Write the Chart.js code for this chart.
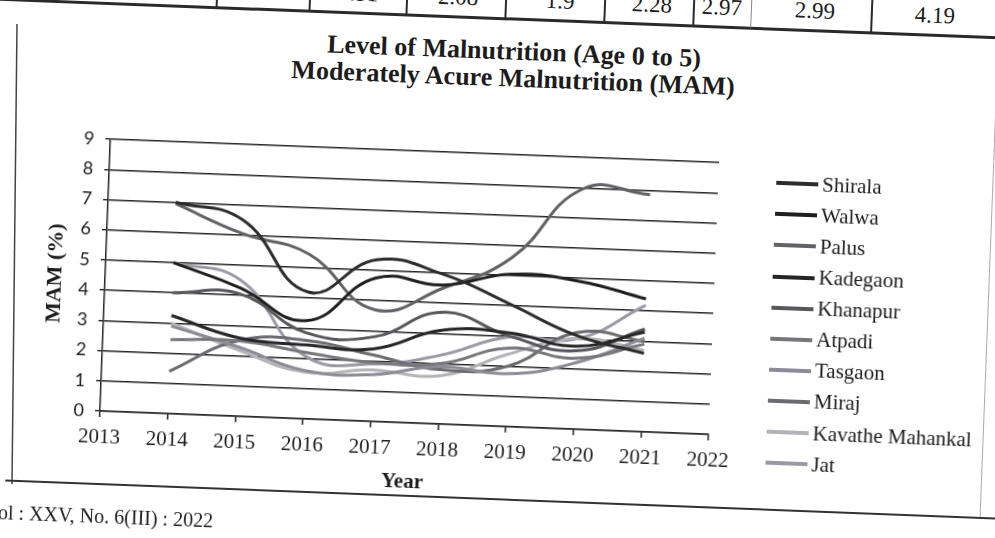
<!DOCTYPE html>
<html>
<head>
<meta charset="utf-8">
<script src="https://cdn.jsdelivr.net/npm/chart.js@4.4.1/dist/chart.umd.min.js"></script>
<style>
html,body{margin:0;padding:0;background:#fff;width:995px;height:538px;overflow:hidden;}
#rot{position:absolute;left:0;top:0;width:995px;height:538px;transform:rotate(2.2deg);transform-origin:100px 411px;}
#cv{position:absolute;left:0;top:0;}
.serif{position:absolute;font-family:"Liberation Serif","Times New Roman",serif;color:#1c1c1c;white-space:nowrap;}
.title{left:0;width:1000px;text-align:center;font-size:26px;font-weight:bold;line-height:27px;}
.hl{position:absolute;background:#2a2a2a;}
.cell{font-size:23px;line-height:1;transform:translateX(-50%);}
.leg{position:absolute;left:767px;height:31px;display:flex;align-items:center;}
.leg .sw{width:42px;height:4px;margin-right:4px;}
.leg .tx{font-family:"Liberation Serif","Times New Roman",serif;font-size:21px;color:#1c1c1c;white-space:nowrap;}
#frame{position:absolute;left:0;top:0;}
</style>
</head>
<body>
<svg id="frame" width="995" height="538">
  <line x1="17" y1="24" x2="12" y2="484" stroke="#444" stroke-width="1.5"/>
</svg>
<div id="rot">
  <!-- table fragment at top -->
  <div class="hl" style="left:-20px;top:2px;width:1040px;height:2.5px;"></div>
  <div class="hl" style="left:200px;top:-40px;width:1.5px;height:43px;"></div>
  <div class="hl" style="left:293px;top:-40px;width:1.5px;height:43px;"></div>
  <div class="hl" style="left:390px;top:-40px;width:1.5px;height:43px;"></div>
  <div class="hl" style="left:489px;top:-40px;width:1.5px;height:43px;"></div>
  <div class="hl" style="left:588px;top:-40px;width:1.5px;height:43px;"></div>
  <div class="hl" style="left:677px;top:-40px;width:1.5px;height:43px;"></div>
  <div class="hl" style="left:735px;top:-40px;width:1px;height:43px;background:#888;"></div>
  <div class="hl" style="left:855px;top:-40px;width:1.5px;height:43px;"></div>
  <div id="tableRow"></div>

  <!-- chart frame (bottom / right) -->
  <div class="hl" style="left:8px;top:483px;width:1010px;height:1.5px;background:#333;"></div>
  <div class="hl" style="left:983px;top:3px;width:1px;height:480px;background:#aaa;"></div>

  <div class="serif title" style="top:22px;">Level of Malnutrition (Age 0 to 5)</div>
  <div class="serif title" style="top:49px;">Moderately Acure Malnutrition (MAM)</div>

  <canvas id="cv" width="995" height="538"></canvas>
  <div id="legend"></div>

  <div class="serif" style="left:2px;top:505px;font-size:20px;">ol : XXV, No. 6(III) : 2022</div>
</div>

<script>
// ---- data ----
const years = [2014, 2015, 2016, 2017, 2018, 2019, 2020, 2021];
const xTicks = [2013, 2014, 2015, 2016, 2017, 2018, 2019, 2020, 2021, 2022];
const yTicks = [0, 1, 2, 3, 4, 5, 6, 7, 8, 9];
const seriesNames = ["Shirala", "Walwa", "Palus", "Kadegaon", "Khanapur", "Atpadi", "Tasgaon", "Miraj", "Kavathe Mahankal", "Jat"];
const shirala  = [7.0, 6.5, 4.2, 5.35, 4.95, 4.05, 3.1, 2.6];
const walwa    = [5.0, 4.25, 3.25, 4.75, 4.6, 5.05, 4.9, 4.4];
const palus    = [6.95, 6.05, 5.45, 3.7, 4.5, 5.6, 7.95, 7.85];
const kadegaon = [3.25, 2.6, 2.45, 2.4, 3.1, 3.1, 2.75, 3.3];
const khanapur = [4.0, 4.05, 2.85, 2.8, 3.7, 3.0, 2.6, 3.4];
const atpadi   = [2.45, 2.5, 2.2, 1.95, 2.0, 2.6, 2.35, 2.9];
const tasgaon  = [2.9, 2.3, 1.6, 1.55, 1.9, 1.75, 2.2, 3.1];
const miraj    = [1.4, 2.5, 2.6, 2.2, 1.8, 2.0, 3.2, 3.0];
const kavathe  = [3.0, 2.2, 1.55, 1.7, 1.6, 2.4, 3.0, 2.7];
const jat      = [5.0, 4.51, 2.08, 1.9, 2.28, 2.97, 2.99, 4.19];
const tableCells = ["4.51", "2.08", "1.9", "2.28", "2.97", "2.99", "4.19"];

// ---- styles (kept separate from data) ----
const seriesValues = [shirala, walwa, palus, kadegaon, khanapur, atpadi, tasgaon, miraj, kavathe, jat];
const seriesColors = ["#2c2c2c", "#1f1f1f", "#626266", "#262626", "#58585c", "#77777c", "#8c8c98", "#6c6c70", "#b4b4b8", "#9a9aa6"];
const tableCellX = [342, 442, 544, 636, 706, 799, 919];

// table fragment
const tr = document.getElementById('tableRow');
tableCells.forEach((t, i) => {
  const d = document.createElement('div');
  d.className = 'serif cell';
  d.style.left = tableCellX[i] + 'px';
  d.style.top = '-28px';
  d.textContent = t;
  tr.appendChild(d);
});

const gridCol = '#262626';
const chart = new Chart(document.getElementById('cv'), {
  type: 'line',
  data: {
    datasets: seriesNames.map((n, i) => ({
      label: n,
      data: years.map((y, j) => ({ x: y, y: seriesValues[i][j] })),
      borderColor: seriesColors[i],
      backgroundColor: seriesColors[i],
      borderWidth: 3,
      pointRadius: 0,
      tension: 0.45,
      fill: false
    }))
  },
  options: {
    responsive: false,
    devicePixelRatio: 1,
    animation: false,
    layout: { padding: { left: 0, top: 139, right: 286, bottom: 0 } },
    plugins: { legend: { display: false }, title: { display: false }, tooltip: { enabled: false } },
    scales: {
      x: {
        type: 'linear', min: xTicks[0], max: xTicks[xTicks.length - 1],
        afterBuildTicks: s => { s.ticks = xTicks.map(v => ({ value: v })); },
        ticks: { color: '#1c1c1c', font: { family: 'Liberation Serif', size: 21 }, padding: 8, maxRotation: 0, autoSkip: false,
                 callback: v => String(v) },
        grid: { drawOnChartArea: false, drawTicks: true, tickLength: 6, color: gridCol, lineWidth: 1.5 },
        border: { color: gridCol, width: 1.5 },
        title: { display: true, text: 'Year', color: '#1c1c1c', font: { family: 'Liberation Serif', size: 21, weight: 'bold' }, padding: { top: 0, bottom: 55 } },
        afterFit: s => { s.height = 127; }
      },
      y: {
        min: yTicks[0], max: yTicks[yTicks.length - 1],
        afterBuildTicks: s => { s.ticks = yTicks.map(v => ({ value: v })); },
        ticks: { color: '#1c1c1c', font: { family: 'Lato', size: 18 }, padding: 11 },
        grid: { drawTicks: true, tickLength: 5, color: gridCol, lineWidth: 1.4 },
        border: { color: gridCol, width: 1.5 },
        title: { display: true, text: 'MAM (%)', color: '#1c1c1c', font: { family: 'Liberation Serif', size: 22, weight: 'bold' }, padding: { top: 37, bottom: 0 } },
        afterFit: s => { s.width = 100; }
      }
    }
  }
});

// legend built from the chart's datasets
const lg = document.getElementById('legend');
chart.data.datasets.forEach((ds, i) => {
  const row = document.createElement('div');
  row.className = 'leg';
  row.style.top = (157.2 + i * 31.1 - 15.5) + 'px';
  const sw = document.createElement('span');
  sw.className = 'sw';
  sw.style.background = ds.borderColor;
  const tx = document.createElement('span');
  tx.className = 'tx';
  tx.textContent = ds.label;
  row.appendChild(sw); row.appendChild(tx);
  lg.appendChild(row);
});
</script>
</body>
</html>
